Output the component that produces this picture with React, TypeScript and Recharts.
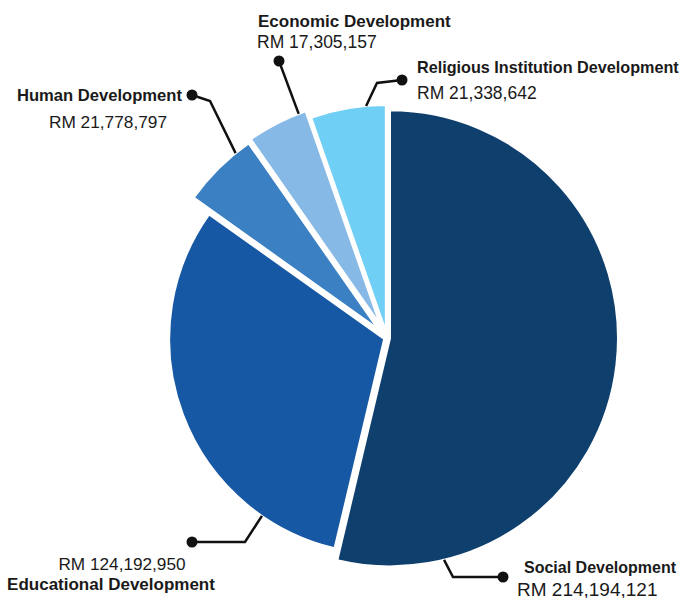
import { PieChart, Pie, Cell } from "recharts";

// allocation per development area
const categories = [
  "Social Development",
  "Educational Development",
  "Human Development",
  "Economic Development",
  "Religious Institution Development",
];
const amounts = [214194121, 124192950, 21778797, 17305157, 21338642];
const amountLabels = [
  "RM 214,194,121",
  "RM 124,192,950",
  "RM 21,778,797",
  "RM 17,305,157",
  "RM 21,338,642",
];

const COLORS = ["#0f3f6d", "#1758a4", "#3a80c3", "#86b9e6", "#6fcff4"];
const EXPLODE = [3, 3, 13, 15, 7];
const RADIUS = [228, 215, 226, 226, 226];
const BASE_CX = 387;
const BASE_CY = 338;
const RAD = Math.PI / 180;
const FONT = "'Liberation Sans', Arial, Helvetica, sans-serif";

type Pt = [number, number];
interface TextPos {
  x: number;
  y: number;
  anchor: "start" | "middle" | "end";
  size: number;
}
interface Callout {
  at: number; // where on the slice's arc the leader starts (0..1)
  elbow: Pt | null;
  dot: Pt;
  title: TextPos;
  value: TextPos;
}

const CALLOUTS: Callout[] = [
  {
    at: 0.86,
    elbow: [453, 577],
    dot: [503, 577],
    title: { x: 524, y: 567, anchor: "start", size: 16 },
    value: { x: 517, y: 589, anchor: "start", size: 19 },
  },
  {
    at: 0.19,
    elbow: [245, 542],
    dot: [192, 542],
    title: { x: 111, y: 584, anchor: "middle", size: 17 },
    value: { x: 122, y: 564, anchor: "middle", size: 17.2 },
  },
  {
    at: 0.79,
    elbow: [210, 101],
    dot: [192, 95],
    title: { x: 182, y: 95, anchor: "end", size: 16.6 },
    value: { x: 108, y: 122, anchor: "middle", size: 17.3 },
  },
  {
    at: 0.88,
    elbow: null,
    dot: [279, 61],
    title: { x: 258, y: 21, anchor: "start", size: 17 },
    value: { x: 257, y: 42, anchor: "start", size: 17.5 },
  },
  {
    at: 0.74,
    elbow: [377, 83],
    dot: [402, 80],
    title: { x: 417, y: 67, anchor: "start", size: 16.2 },
    value: { x: 417, y: 93, anchor: "start", size: 17.5 },
  },
];

const data = categories.map((name, i) => ({ name, value: amounts[i] }));

const total = amounts.reduce((s, v) => s + v, 0);
const midAngles = amounts.map((v, i) => {
  const before = amounts.slice(0, i).reduce((s, x) => s + x, 0);
  return 90 - ((before + v / 2) / total) * 360;
});
const centers = midAngles.map((a, i) => ({
  cx: BASE_CX + EXPLODE[i] * Math.cos(a * RAD),
  cy: BASE_CY - EXPLODE[i] * Math.sin(a * RAD),
}));

const renderCallout = (k: number) => (props: any) => {
  if (props.index !== k) return null;
  const { cx, cy, outerRadius, startAngle, endAngle, midAngle } = props;
  const c = CALLOUTS[k];
  const ang =
    startAngle != null && endAngle != null
      ? startAngle + (endAngle - startAngle) * c.at
      : midAngle;
  const sx = cx + outerRadius * Math.cos(-ang * RAD);
  const sy = cy + outerRadius * Math.sin(-ang * RAD);
  const pts: Pt[] = [[sx, sy]];
  if (c.elbow) pts.push(c.elbow);
  pts.push(c.dot);
  return (
    <g>
      <polyline
        points={pts.map((p) => p.join(",")).join(" ")}
        fill="none"
        stroke="#111"
        strokeWidth={2.5}
      />
      <circle cx={c.dot[0]} cy={c.dot[1]} r={5.5} fill="#111" />
      <text
        x={c.title.x}
        y={c.title.y}
        textAnchor={c.title.anchor}
        dominantBaseline="central"
        fontFamily={FONT}
        fontWeight="bold"
        fontSize={c.title.size}
        fill="#1a1a1a"
      >
        {categories[k]}
      </text>
      <text
        x={c.value.x}
        y={c.value.y}
        textAnchor={c.value.anchor}
        dominantBaseline="central"
        fontFamily={FONT}
        fontSize={c.value.size}
        fill="#1a1a1a"
      >
        {amountLabels[k]}
      </text>
    </g>
  );
};

export default function App() {
  return (
    <div
      style={{
        position: "absolute",
        left: 0,
        top: 0,
        width: 690,
        height: 598,
        background: "#ffffff",
      }}
    >
      <PieChart width={690} height={598} margin={{ top: 0, right: 0, bottom: 0, left: 0 }}>
        {categories.map((name, k) => (
          <Pie
            key={name}
            data={data}
            dataKey="value"
            nameKey="name"
            cx={centers[k].cx}
            cy={centers[k].cy}
            innerRadius={0}
            outerRadius={RADIUS[k]}
            startAngle={90}
            endAngle={-270}
            isAnimationActive={false}
            labelLine={false}
            label={renderCallout(k)}
          >
            {data.map((d, i) => (
              <Cell
                key={d.name}
                fill={i === k ? COLORS[i] : "none"}
                stroke={i === k ? "#ffffff" : "none"}
                strokeWidth={i === k ? 2 : 0}
              />
            ))}
          </Pie>
        ))}
      </PieChart>
    </div>
  );
}
